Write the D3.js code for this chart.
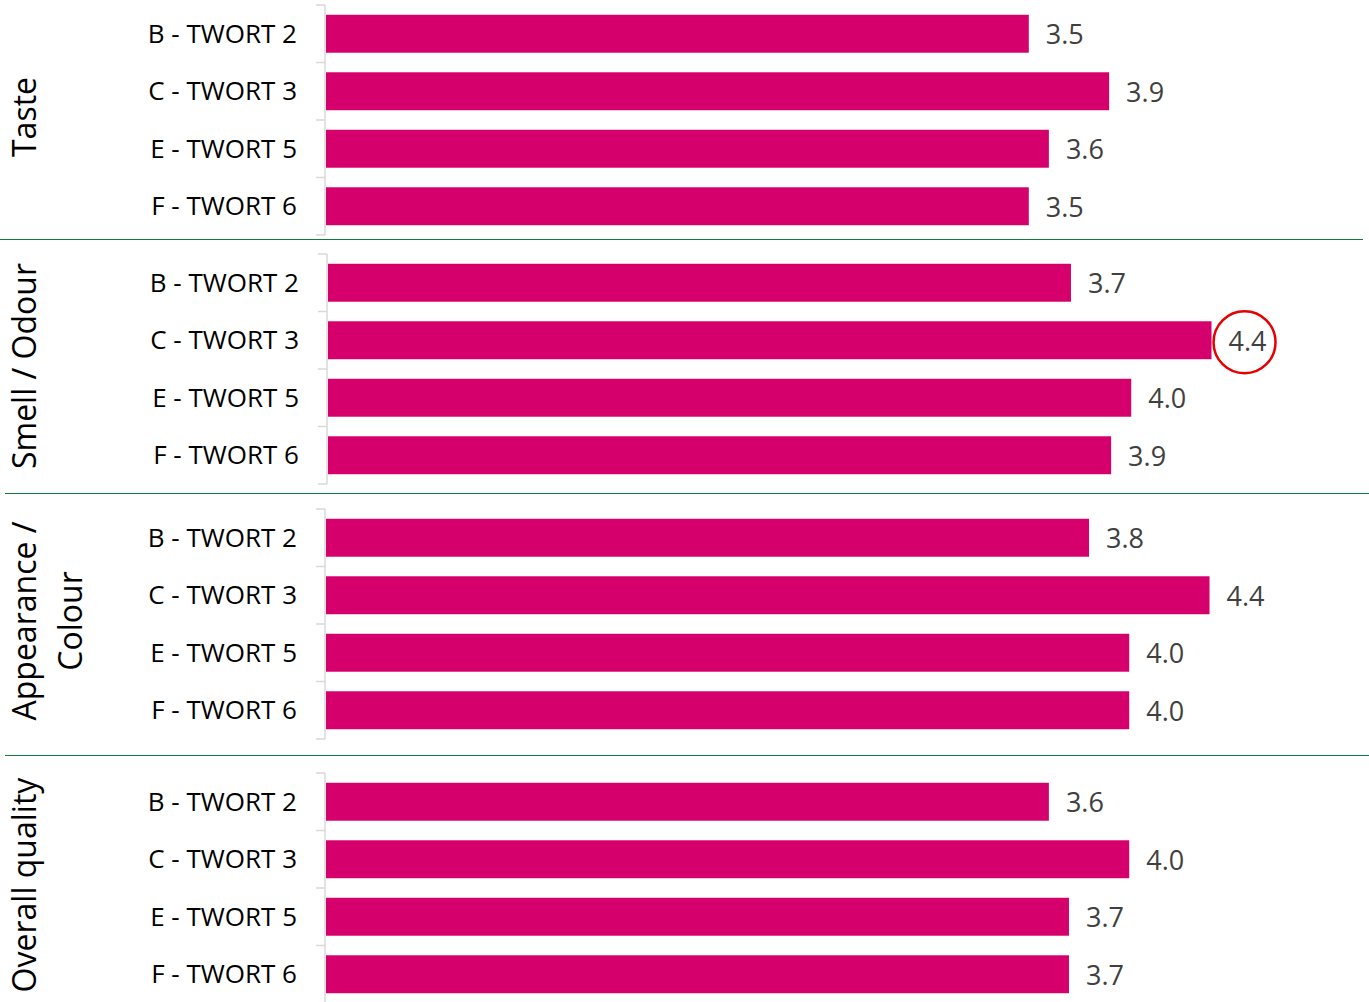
<!DOCTYPE html>
<html>
<head>
<meta charset="utf-8">
<script src="https://cdn.jsdelivr.net/npm/d3@7"></script>
<style>
  body { margin: 0; background: #fff; }
  svg { display: block; }
  .cat { font-family: "Open Sans", sans-serif; font-size: 26px; fill: #000; }
  .val { font-family: "Open Sans", sans-serif; font-size: 27px; fill: #404040; }
  .grp { font-family: "Open Sans", sans-serif; font-size: 32px; fill: #000; }
</style>
</head>
<body>
<svg id="chart" width="1369" height="1002"></svg>
<script>
/*
Four stacked horizontal bar panels, one per rating attribute
*/
var groups = ["Taste", "Smell / Odour", "Appearance / Colour", "Overall quality"];
var groupLines = [["Taste"], ["Smell / Odour"], ["Appearance /", "Colour"], ["Overall quality"]];
var categories = ["B - TWORT 2", "C - TWORT 3", "E - TWORT 5", "F - TWORT 6"];

var tasteValues = [3.5, 3.9, 3.6, 3.5];
var smellValues = [3.7, 4.4, 4.0, 3.9];
var appearanceValues = [3.8, 4.4, 4.0, 4.0];
var overallValues = [3.6, 4.0, 3.7, 3.7];
var seriesValues = [tasteValues, smellValues, appearanceValues, overallValues];

// value circled in red on the original
var highlightGroup = "Smell / Odour";
var highlightCategory = "C - TWORT 3";

var svg = d3.select("#chart");

// panel geometry (the source is four pasted excel charts, each a bit offset)
var panelTop = [5, 254, 509, 773];
var panelHeight = 230;
var axisX = [325, 327, 325, 325];
var separators = [
  { y: 239.5, x1: 0, x2: 1363 },
  { y: 493.5, x1: 5, x2: 1369 },
  { y: 755.5, x1: 5, x2: 1369 }
];

var x = d3.scaleLinear().domain([0, 5]).range([0, 1004]);

groups.forEach(function(g, gi) {
  var y = d3.scaleBand()
      .domain(categories)
      .range([panelTop[gi], panelTop[gi] + panelHeight])
      .paddingInner(0.34)
      .paddingOuter(0.17);

  var ax = axisX[gi];
  var panel = svg.append("g").attr("class", "panel");

  var rows = categories.map(function(c, i) { return { cat: c, value: seriesValues[gi][i] }; });

  // axis line and ticks between categories
  panel.append("line")
      .attr("x1", ax).attr("x2", ax)
      .attr("y1", panelTop[gi]).attr("y2", panelTop[gi] + panelHeight)
      .attr("stroke", "#d9d9d9").attr("stroke-width", 1.5);

  panel.selectAll(".tick")
      .data(d3.range(categories.length + 1))
    .enter().append("line")
      .attr("x1", ax - 9).attr("x2", ax)
      .attr("y1", function(i) { return panelTop[gi] + i * y.step(); })
      .attr("y2", function(i) { return panelTop[gi] + i * y.step(); })
      .attr("stroke", "#d9d9d9").attr("stroke-width", 1.5);

  panel.selectAll(".bar")
      .data(rows)
    .enter().append("rect")
      .attr("class", "bar")
      .attr("x", ax + 1)
      .attr("y", function(d) { return y(d.cat); })
      .attr("width", function(d) { return x(d.value); })
      .attr("height", y.bandwidth())
      .attr("fill", "#d6006c");

  panel.selectAll(".cat")
      .data(rows)
    .enter().append("text")
      .attr("class", "cat")
      .attr("x", ax - 28)
      .attr("y", function(d) { return y(d.cat) + y.bandwidth() / 2; })
      .attr("dy", ".35em")
      .attr("text-anchor", "end")
      .text(function(d) { return d.cat; });

  panel.selectAll(".val")
      .data(rows)
    .enter().append("text")
      .attr("class", "val")
      .attr("x", function(d) { return ax + 1 + x(d.value) + 17; })
      .attr("y", function(d) { return y(d.cat) + y.bandwidth() / 2 + 1; })
      .attr("dy", ".35em")
      .text(function(d) { return d3.format(".1f")(d.value); });

  if (g === highlightGroup) {
    var hv = seriesValues[gi][categories.indexOf(highlightCategory)];
    panel.append("circle")
        .attr("cx", ax + 1 + x(hv) + 33)
        .attr("cy", y(highlightCategory) + y.bandwidth() / 2 + 2)
        .attr("r", 31)
        .attr("fill", "none")
        .attr("stroke", "#e60000")
        .attr("stroke-width", 2.5);
  }

  // rotated group label
  var cy = panelTop[gi] + panelHeight / 2 - 3;
  var lbl = panel.append("text")
      .attr("class", "grp")
      .attr("text-anchor", "middle")
      .attr("transform", "translate(0," + cy + ")rotate(-90)");
  groupLines[gi].forEach(function(line, li) {
    lbl.append("tspan")
        .attr("x", 0)
        .attr("y", 36 + li * 46)
        .text(line);
  });
});

svg.selectAll(".sep")
    .data(separators)
  .enter().append("line")
    .attr("class", "sep")
    .attr("x1", function(d) { return d.x1; })
    .attr("x2", function(d) { return d.x2; })
    .attr("y1", function(d) { return d.y; })
    .attr("y2", function(d) { return d.y; })
    .attr("stroke", "#157a3e")
    .attr("stroke-width", 1.2);
</script>
</body>
</html>
